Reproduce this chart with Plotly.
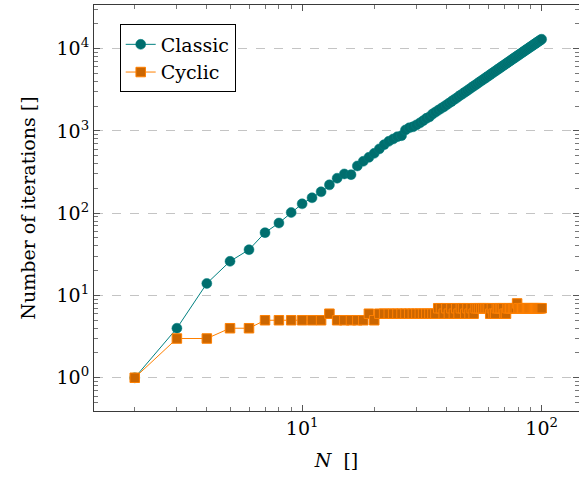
import plotly.graph_objects as go

N = list(range(2, 101))

classic = [1, 4, 14, 26, 36, 58, 76, 102, 130, 154, 182, 221, 266, 300, 294, 375, 427, 477, 534,
           604, 681, 747, 798, 851, 875, 1026, 1090, 1120, 1180, 1250, 1330, 1420, 1480, 1600, 1690,
           1780, 1870, 1960, 2060, 2170, 2270, 2390, 2490, 2620, 2740, 2850, 2980, 3100, 3230, 3370,
           3500, 3630, 3770, 3920, 4060, 4210, 4350, 4510, 4660, 4830, 4990, 5150, 5320, 5490, 5650,
           5830, 6010, 6190, 6370, 6560, 6740, 6940, 7120, 7320, 7520, 7720, 7920, 8120, 8330, 8540,
           8750, 8970, 9180, 9400, 9630, 9850, 10080, 10300, 10540, 10770, 11010, 11250, 11490, 11740,
           11990, 12240, 12490, 12740, 13000]

cyclic = [1, 3, 3, 4, 4, 5, 5, 5, 5, 5, 5, 6, 5, 5, 5, 5, 5, 6, 5,
          6, 6, 6, 6, 6, 6, 6, 6, 6, 6, 6, 6, 6, 6, 6, 6,
          7, 7, 6, 7, 6, 7, 6, 7, 6, 7, 7, 6, 7, 6, 7, 6, 7, 7, 7, 7,
          7, 7, 7, 7, 6, 7, 6, 6, 7, 7, 7, 7, 7, 6, 6, 7, 7, 7, 7, 7,
          7, 7, 8, 7, 7, 7, 7, 7, 7, 7, 7, 7, 7, 7, 7, 7, 7, 7, 7, 7, 7, 7, 7, 7]

xtick_vals = [10, 100]
xtick_text = ["10<sup>1</sup>", "10<sup>2</sup>"]
ytick_vals = [1, 10, 100, 1000, 10000]
ytick_text = ["10<sup>0</sup>", "10<sup>1</sup>", "10<sup>2</sup>", "10<sup>3</sup>", "10<sup>4</sup>"]

FONT = "DejaVu Serif"

fig = go.Figure()
fig.add_trace(go.Scatter(
    x=N, y=classic, mode="lines+markers", name="Classic",
    line=dict(color="rgb(0,128,128)", width=1),
    marker=dict(symbol="circle", size=10, color="rgb(0,110,110)",
                line=dict(color="rgb(0,128,128)", width=0.5)),
))
fig.add_trace(go.Scatter(
    x=N[:len(cyclic)], y=cyclic, mode="lines+markers", name="Cyclic",
    line=dict(color="rgb(255,128,0)", width=1),
    marker=dict(symbol="square", size=9.5, color="rgb(204,102,0)",
                line=dict(color="rgb(255,128,0)", width=1)),
))

axis_common = dict(
    showline=True, linecolor="#3a3a3a", linewidth=1, mirror="ticks",
    ticks="inside", ticklen=6, tickcolor="#555555", tickwidth=1,
    zeroline=False, automargin=False,
    tickfont=dict(family=FONT, size=19, color="black"),
    minor=dict(ticks="inside", ticklen=4, tickcolor="#777777", dtick="D1", showgrid=False),
)

fig.update_xaxes(
    type="log", range=[0.131, 2.156], showgrid=False,
    tickvals=xtick_vals, ticktext=xtick_text,
    title=dict(text="<i>N</i>  []", font=dict(family=FONT, size=19, color="black")),
    **axis_common,
)
fig.update_yaxes(
    type="log", range=[-0.404, 4.53], showgrid=True,
    gridcolor="#c4c4c4", griddash="dash", gridwidth=1,
    tickvals=ytick_vals, ticktext=ytick_text,
    title=dict(text="Number of iterations []", font=dict(family=FONT, size=19, color="black")),
    **axis_common,
)

fig.update_layout(
    width=579, height=480,
    margin=dict(l=94, r=0, t=5, b=69),
    plot_bgcolor="white", paper_bgcolor="white",
    font=dict(family=FONT, size=19, color="black"),
    legend=dict(
        x=0.053, y=0.952, xanchor="left", yanchor="top",
        bgcolor="white", bordercolor="black", borderwidth=1,
        font=dict(family=FONT, size=19, color="black"),
        itemwidth=30, tracegroupgap=0,
    ),
    showlegend=True,
)

post = ("document.documentElement.style.overflow='hidden';"
        "document.body.style.margin='0';document.body.style.overflow='hidden';"
        "Plotly.relayout('{plot_id}', {width:579, height:480});")

fig.write_html("out.html", post_script=post, config={"displayModeBar": False})
